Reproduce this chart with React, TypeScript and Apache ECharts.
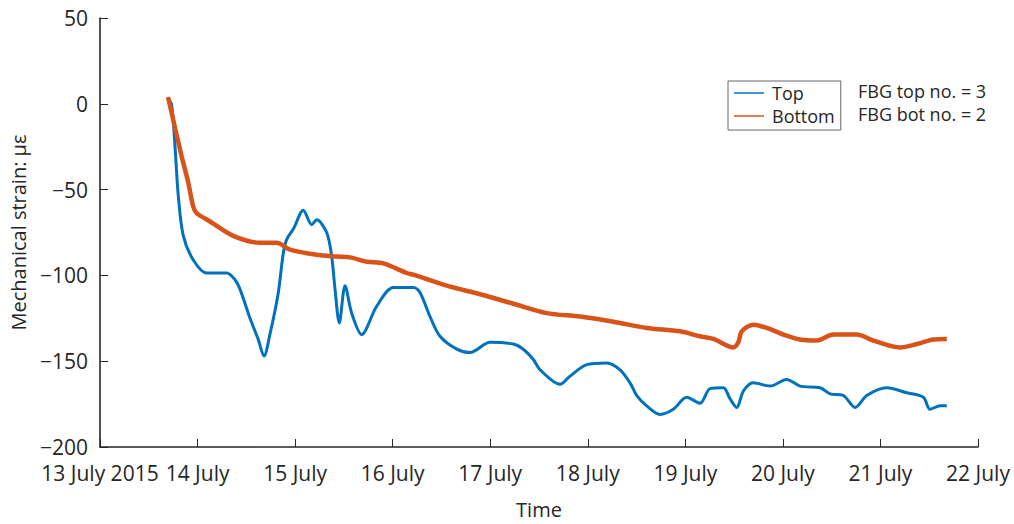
import React, { useEffect, useRef } from "react";
import * as echarts from "echarts";

const tickLabels = [
  "13 July 2015", "14 July", "15 July", "16 July", "17 July",
  "18 July", "19 July", "20 July", "21 July", "22 July",
];

// days since 13 July 2015 00:00
const topDays = [
  0.700, 0.735, 0.769, 0.803, 0.854, 0.956, 1.094, 1.299, 1.384, 1.435,
  1.538, 1.620, 1.681, 1.743, 1.825, 1.879, 1.914, 1.982, 2.084, 2.170,
  2.221, 2.324, 2.375, 2.409, 2.453, 2.512, 2.580, 2.683, 2.836, 3.007,
  3.212, 3.280, 3.383, 3.485, 3.657, 3.793, 3.998, 4.237, 4.339, 4.442,
  4.511, 4.716, 4.818, 4.989, 5.194, 5.331, 5.433, 5.502, 5.604, 5.740,
  5.877, 6.014, 6.151, 6.254, 6.390, 6.459, 6.527, 6.595, 6.697, 6.868,
  7.039, 7.176, 7.381, 7.484, 7.620, 7.740, 7.860, 8.065, 8.270, 8.440,
  8.508, 8.611, 8.680,
];
const topStrain = [
  3, -0.8, -25, -54, -77, -91, -98.6, -98.6, -102.5, -108,
  -125, -137, -147, -134, -111, -87, -79, -73, -62, -70.5,
  -67.6, -75, -89, -108, -127.7, -106, -122, -134.5, -118, -107,
  -107, -110, -124, -135.5, -143, -145, -139, -140, -143, -149,
  -155, -163.5, -158.7, -152, -151, -155, -162.6, -170, -176, -181,
  -178, -171, -174.5, -166, -165.5, -172, -177, -167.4, -162.6, -164.5,
  -160.6, -164.5, -165.5, -169, -170, -177, -170, -165.5, -168.4, -171,
  -178, -176, -176,
];

const bottomDays = [
  0.697, 0.751, 0.838, 0.905, 0.956, 0.991, 1.128, 1.366, 1.640, 1.811,
  1.948, 2.221, 2.426, 2.563, 2.734, 2.904, 3.144, 3.212, 3.554, 3.895,
  4.237, 4.579, 4.921, 5.262, 5.604, 5.945, 6.151, 6.287, 6.492, 6.543,
  6.578, 6.697, 6.834, 7.005, 7.176, 7.347, 7.517, 7.757, 7.927, 8.201,
  8.372, 8.542, 8.680,
];
const bottomStrain = [
  4, -9.5, -30.8, -46, -60, -63.7, -68.6, -77, -81, -81,
  -85, -88, -89, -89.5, -92, -93, -98.6, -99.6, -106, -111,
  -116.5, -122, -124, -127, -130.6, -132.6, -135.5, -137, -142, -139,
  -132.6, -128.7, -130.6, -134.5, -137.4, -138, -134.5, -134.5, -138, -142,
  -140, -137.4, -137,
];

const seriesNames = ["Top", "Bottom"];
const seriesColors = ["#0072BD", "#D95319"];
const noteTexts = ["FBG top no. = 3", "FBG bot no. = 2"];

const FONT = "'Open Sans', 'Noto Sans', sans-serif";
const INK = "#262626";

function zip(xs: number[], ys: number[]) {
  return xs.map((x, i) => [x, ys[i]]);
}

export default function App() {
  const ref = useRef<HTMLDivElement>(null);

  useEffect(() => {
    const chart = echarts.init(ref.current!, null, { renderer: "svg" });
    chart.setOption({
      animation: false,
      backgroundColor: "#ffffff",
      textStyle: { fontFamily: FONT },
      grid: { left: 100, right: 36, top: 18, bottom: 76, containLabel: false },
      xAxis: {
        type: "value",
        min: 0,
        max: 9,
        interval: 1,
        name: "Time",
        nameLocation: "middle",
        nameGap: 52,
        nameTextStyle: { fontFamily: FONT, fontSize: 20, color: INK, verticalAlign: "top" },
        axisLine: { show: true, onZero: false, lineStyle: { color: INK, width: 1.6 } },
        axisTick: { show: true, inside: true, length: 8, lineStyle: { color: INK, width: 1 } },
        axisLabel: {
          fontFamily: FONT,
          fontSize: 21,
          color: INK,
          margin: 15,
          showMinLabel: true,
          showMaxLabel: true,
          formatter: (v: number) => tickLabels[Math.round(v)] ?? "",
        },
        splitLine: { show: false },
      },
      yAxis: {
        type: "value",
        min: -200,
        max: 50,
        interval: 50,
        name: "Mechanical strain: \u03bc\u03b5",
        nameLocation: "middle",
        nameGap: 72,
        nameRotate: 90,
        nameTextStyle: { fontFamily: FONT, fontSize: 20, color: INK },
        axisLine: { show: true, onZero: false, lineStyle: { color: INK, width: 1.6 } },
        axisTick: { show: true, inside: true, length: 8, lineStyle: { color: INK, width: 1 } },
        axisLabel: {
          fontFamily: FONT,
          fontSize: 21,
          color: INK,
          margin: 12,
          formatter: (v: number) => (v < 0 ? "\u2212" + Math.abs(v) : String(v)),
        },
        splitLine: { show: false },
      },
      legend: {
        data: seriesNames.map((n) => ({ name: n, icon: "rect" })),
        orient: "vertical",
        left: 728,
        top: 81,
        itemWidth: 30,
        itemHeight: 1.5,
        itemGap: 5,
        padding: [3, 6, 5, 6],
        borderColor: "#666666",
        borderWidth: 1,
        backgroundColor: "#ffffff",
        textStyle: { fontFamily: FONT, fontSize: 18, color: INK, padding: [0, 0, 0, 3] },
      },
      graphic: noteTexts.map((t, i) => ({
        type: "text",
        left: 858,
        top: 82 + i * 23,
        style: { text: t, fontFamily: FONT, fontSize: 18, fill: INK },
      })),
      series: [
        {
          name: seriesNames[0],
          type: "line",
          data: zip(topDays, topStrain),
          showSymbol: false,
          symbol: "none",
          smooth: 0.3,
          lineStyle: { color: seriesColors[0], width: 3 },
          itemStyle: { color: seriesColors[0] },
        },
        {
          name: seriesNames[1],
          type: "line",
          data: zip(bottomDays, bottomStrain),
          showSymbol: false,
          symbol: "none",
          smooth: 0.3,
          lineStyle: { color: seriesColors[1], width: 4.5 },
          itemStyle: { color: seriesColors[1] },
        },
      ],
    });
    return () => chart.dispose();
  }, []);

  return (
    <div
      ref={ref}
      style={{ position: "fixed", left: 0, top: 0, width: 1014, height: 524 }}
    />
  );
}
